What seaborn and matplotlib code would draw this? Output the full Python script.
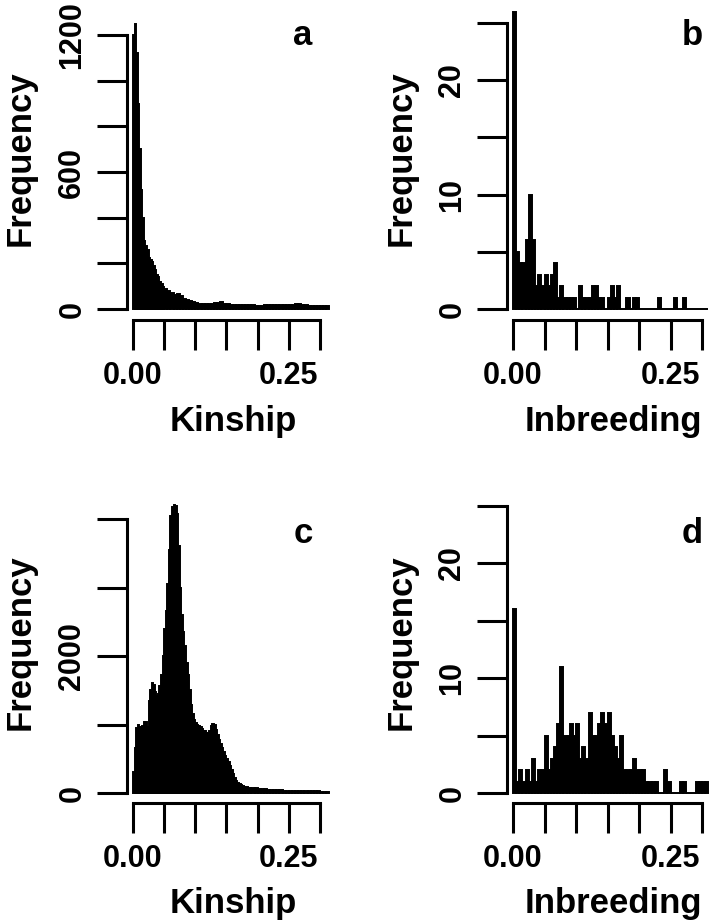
import numpy as np
import matplotlib
matplotlib.use("Agg")
import matplotlib.pyplot as plt
import seaborn as sns

sns.set_style("ticks")
plt.rcParams['font.family'] = ['Liberation Sans', 'DejaVu Sans']
plt.rcParams['font.weight'] = 'bold'
plt.rcParams['text.color'] = 'black'
plt.rcParams['xtick.color'] = 'black'
plt.rcParams['ytick.color'] = 'black'

# ---- data ----
# kinship, population 1 (panel a): 0.0025 wide bins up to 0.05, then 0.005 wide bins
kin1_fine = [1200, 1250, 1120, 900, 700, 520, 400, 300, 275, 260,
             225, 215, 205, 190, 170, 150, 140, 120, 108, 98]
kin1_tail = [88, 78, 70, 62, 66, 55, 42, 38, 33, 30,
             26, 24, 22, 22, 21, 22, 25, 28, 29, 24,
             21, 19, 19, 18, 18, 17, 17, 16, 16, 15,
             15, 15, 17, 16, 16, 17, 16, 16, 16, 17,
             18, 19, 22, 22, 18, 16, 15, 15, 15, 14,
             14, 13, 12]

# inbreeding, population 1 (panel b): 0.005 wide bins from 0 to 0.31
inb1 = [26, 5, 4, 4, 6, 10, 6, 2, 3, 2,
        3, 2, 3, 4, 1, 2, 1, 1, 1, 1,
        0, 2, 1, 1, 1, 2, 2, 1, 1, 0,
        1, 2, 1, 2, 0, 0, 1, 0, 1, 1,
        0, 0, 0, 0, 0, 0, 1, 0, 0, 0,
        0, 1, 0, 0, 1, 0, 0, 0, 0, 0,
        0, 0]

# kinship, population 2 (panel c): 0.0025 wide bins up to 0.18, then 0.005 wide bins
kin2_fine = [300, 650, 950, 990, 970, 960, 980, 1030, 1040, 970,
             1350, 1500, 1600, 1580, 1480, 1420, 1450, 1560, 1720, 2000,
             2400, 2650, 3050, 3550, 4050, 4180, 4210, 4190, 4080, 3600,
             3000, 2600, 2350, 2150, 1900, 1720, 1500, 1280, 1150, 1060,
             1020, 1000, 980, 960, 940, 910, 900, 880, 870, 900,
             980, 1010, 1000, 920, 850, 780, 720, 660, 600, 540,
             490, 450, 400, 340, 280, 220, 180, 150, 130, 110,
             100, 90]
kin2_tail = [82, 75, 70, 66, 62, 58, 55, 50, 46, 42,
             40, 38, 36, 34, 32, 30, 30, 28, 27, 26,
             25, 24, 23, 22, 21, 20, 18]

# inbreeding, population 2 (panel d)
inb2 = [16, 1, 2, 1, 2, 1, 3, 1, 2, 2,
        5, 2, 3, 4, 6, 11, 5, 5, 6, 5,
        6, 3, 4, 3, 7, 5, 5, 6, 7, 6,
        7, 5, 4, 3, 5, 2, 2, 2, 3, 2,
        2, 2, 1, 1, 1, 1, 0, 0, 2, 1,
        0, 0, 0, 1, 1, 0, 0, 0, 1, 1,
        1, 1]

x_ticks = [0, 0.05, 0.10, 0.15, 0.20, 0.25, 0.30]
x_ticklabels = ['0.00', '', '', '', '', '0.25', '']
kin1_yticks = [0, 200, 400, 600, 800, 1000, 1200]
kin1_ylabels = ['0', '', '', '600', '', '', '1200']
kin2_yticks = [0, 1000, 2000, 3000, 4000]
kin2_ylabels = ['0', '', '2000', '', '']
inb_yticks = [0, 5, 10, 15, 20, 25]
inb_ylabels = ['0', '', '10', '', '20', '']


def make_edges(split, fine_w, n_fine, tail_w, n_tail):
    fine = np.arange(n_fine + 1) * fine_w
    tail = split + np.arange(1, n_tail + 1) * tail_w
    return np.concatenate([fine, tail])


W, H = 711, 924
fig = plt.figure(figsize=(W / 100, H / 100), dpi=100)


def px(x, y):
    return x / W, 1 - y / H


def draw_panel(box, counts, edges, xlim, ylim, yticks, ylabels):
    l, t, r, b = box
    ax = fig.add_axes([l / W, 1 - b / H, (r - l) / W, (b - t) / H])
    centers = (edges[:-1] + edges[1:]) / 2
    sns.histplot(x=centers, weights=counts, bins=list(edges), stat='count',
                 color='black', edgecolor='black', linewidth=1.4,
                 alpha=1, ax=ax)
    ax.set_xlim(xlim)
    ax.set_ylim(ylim)
    ax.set_xticks(x_ticks)
    ax.set_xticklabels(x_ticklabels)
    ax.set_yticks(yticks)
    ax.set_yticklabels(ylabels)
    ax.set_xlabel('')
    ax.set_ylabel('')
    ax.tick_params(length=21.6, width=2.2, labelsize=22,
                   direction='out', colors='black', bottom=True, left=True)
    ax.tick_params(axis='x', pad=8)
    ax.tick_params(axis='y', pad=7)
    for lbl in ax.get_yticklabels():
        lbl.set_rotation(90)
        lbl.set_va('center')
    sns.despine(ax=ax)
    ax.spines['left'].set_bounds(0, yticks[-1])
    ax.spines['bottom'].set_bounds(0, 0.3)
    for s in ['left', 'bottom']:
        ax.spines[s].set_linewidth(2.2)
        ax.spines[s].set_color('black')
    ax.grid(False)
    return ax


# panel a
edges_a = make_edges(0.05, 0.0025, len(kin1_fine), 0.005, len(kin1_tail))
draw_panel((127, 10, 335, 320), kin1_fine + kin1_tail, edges_a,
           (-6 / 623.3, 202 / 623.3), (-11 / 0.22833, 299 / 0.22833),
           kin1_yticks, kin1_ylabels)

# panel b
edges_b = np.arange(len(inb1) + 1) * 0.005
draw_panel((507, 0, 711, 320), inb1, edges_b,
           (-6 / 630, 198 / 630), (-11 / 11.44, 309 / 11.44),
           inb_yticks, inb_ylabels)

# panel c
edges_c = make_edges(0.18, 0.0025, len(kin2_fine), 0.005, len(kin2_tail))
draw_panel((127, 490, 335, 803), kin2_fine + kin2_tail, edges_c,
           (-6 / 623.3, 202 / 623.3), (-10 / 0.0685, 303 / 0.0685),
           kin2_yticks, kin2_ylabels)

# panel d
edges_d = np.arange(len(inb2) + 1) * 0.005
draw_panel((507, 490, 711, 803), inb2, edges_d,
           (-6 / 630, 198 / 630), (-10 / 11.48, 303 / 11.48),
           inb_yticks, inb_ylabels)

# axis titles and panel letters
lab = dict(fontsize=25, fontweight='bold', ha='center', va='center')
fig.text(*px(20, 158), 'Frequency', rotation=90, **lab)
fig.text(*px(401, 158), 'Frequency', rotation=90, **lab)
fig.text(*px(20, 642), 'Frequency', rotation=90, **lab)
fig.text(*px(401, 642), 'Frequency', rotation=90, **lab)
fig.text(*px(233, 421), 'Kinship', **lab)
fig.text(*px(613, 422), 'Inbreeding', **lab)
fig.text(*px(233, 904), 'Kinship', **lab)
fig.text(*px(613, 903), 'Inbreeding', **lab)

let = dict(fontsize=25, fontweight='bold', ha='center', va='baseline')
fig.text(*px(303, 45), 'a', **let)
fig.text(*px(692, 45), 'b', **let)
fig.text(*px(303, 543), 'c', **let)
fig.text(*px(692, 543), 'd', **let)

fig.savefig('out.png', dpi=100, facecolor='white')
